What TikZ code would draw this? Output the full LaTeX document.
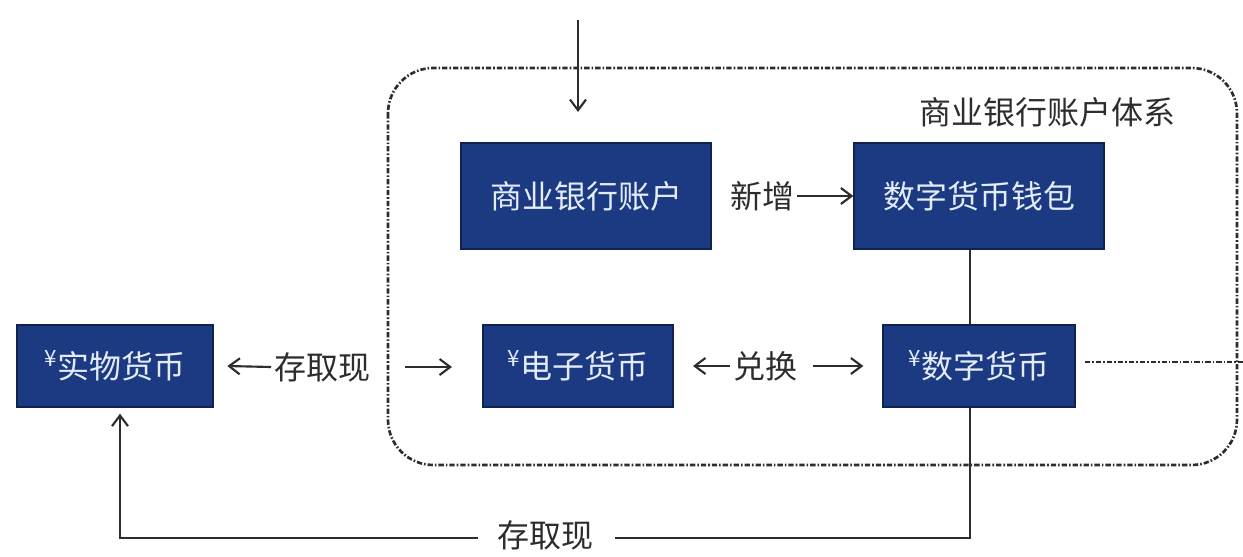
\documentclass[tikz,border=0pt]{standalone}
\usepackage{fontspec}
\setmainfont{Noto Sans CJK SC}[BoldFont={Noto Sans CJK SC Bold}]
\usetikzlibrary{arrows.meta}
\definecolor{boxfill}{RGB}{28,58,130}
\definecolor{boxedge}{RGB}{16,34,80}
\definecolor{boxtext}{RGB}{228,236,250}
\definecolor{ink}{RGB}{45,45,45}
\begin{document}
\begin{tikzpicture}[x=0.75pt,y=-0.75pt,
  bluebox/.style={draw=boxedge,line width=1.5pt,fill=boxfill,text=boxtext,font=\fontsize{24}{28}\selectfont,inner sep=0pt},
  lbl/.style={text=ink,font=\fontsize{24}{28}\selectfont,inner sep=2pt},
  conn/.style={draw=ink,line width=1.6pt},
  arr/.style={conn,-{Straight Barb[length=8pt,width=12pt,line width=1.6pt]}},
  framestyle/.style={draw=ink,line width=2pt,dash pattern=on 4pt off 1.5pt on 1.2pt off 1.5pt,rounded corners=34pt}
]
\useasboundingbox (0,0) rectangle (1243,557);
% frame
\draw[framestyle] (388,68) rectangle (1237,465);
\node[lbl,anchor=center] (syslabel) at (1047,112) {商业银行账户体系};
% boxes
\node[bluebox,minimum width=187pt,minimum height=80pt] (bank) at (586,196) {商业银行账户};
\node[bluebox,minimum width=187pt,minimum height=80pt] (wallet) at (979,196) {数字货币钱包};
\node[bluebox,minimum width=147pt,minimum height=62pt] (phys) at (115,366) {\textsuperscript{¥}实物货币};
\node[bluebox,minimum width=143pt,minimum height=62pt] (emoney) at (578,366) {\textsuperscript{¥}电子货币};
\node[bluebox,minimum width=144pt,minimum height=62pt] (dcash) at (979,366) {\textsuperscript{¥}数字货币};
% top incoming arrow
\coordinate (topin) at (578,20);
\coordinate (topend) at (578,112);
\draw[arr] (topin) -- (topend);
% 新增
\node[lbl] (xz) at (762,196) {新增};
\draw[arr] (xz.east) -- (wallet.west);
% 存取现 (top)
\node[lbl] (cq) at (322,367) {存取现};
\draw[arr] (cq.west) -- ([xshift=10]phys.east);
\coordinate (cqa) at (405,367);
\coordinate (cqb) at (452,367);
\draw[arr] (cqa) -- (cqb);
% 兑换
\node[lbl] (dh) at (765,366) {兑换};
\draw[arr] (dh.west) -- ([xshift=14]emoney.east);
\draw[arr] ([xshift=10]dh.east) -- ([xshift=-14]dcash.west);
% dashed out
\coordinate (dashstart) at (1085,362);
\coordinate (dashend) at (1243,362);
\draw[ink,line width=1.4pt,dash pattern=on 4pt off 1.5pt on 1.2pt off 1.5pt] (dashstart) -- (dashend);
% wallet to dcash
\coordinate (vx) at (970,0);
\draw[conn] (wallet.south -| vx) -- (dcash.north -| vx);
% bottom loop
\node[lbl] (cq2) at (545,535) {存取现};
\coordinate (br) at (970,538);
\coordinate (bl) at (120,538);
\draw[conn] (dcash.south -| br) -- (br) -- ([xshift=14]cq2.east |- br);
\draw[arr] ([xshift=-12]cq2.west |- bl) -- (bl) -- ([yshift=-4]phys.south -| bl);
\end{tikzpicture}
\end{document}
